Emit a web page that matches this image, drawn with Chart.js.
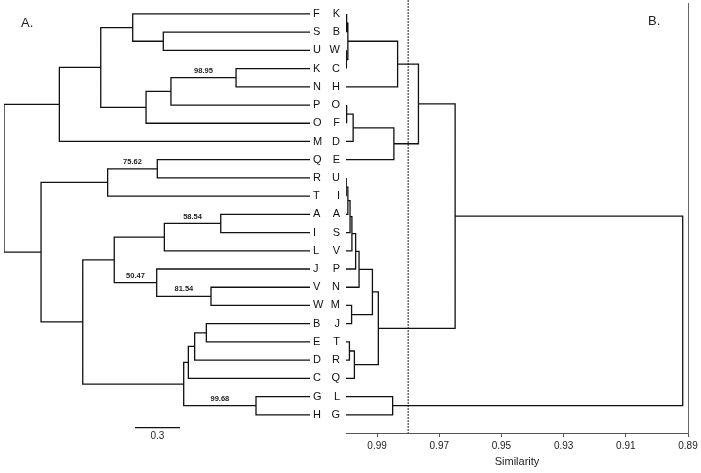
<!DOCTYPE html>
<html lang="en">
<head>
<meta charset="UTF-8">
<title>Dendrograms A and B</title>
<script src="https://cdn.jsdelivr.net/npm/chart.js"></script>
<style>
  body { margin: 0; background: #fff; }
  #wrap { position: relative; width: 701px; height: 473px; }
  canvas { position: absolute; top: 0; }
  #treeA { left: 0; }
  #treeB { left: 326px; }
</style>
</head>
<body>
<div id="wrap">
  <canvas id="treeA" width="326" height="473"></canvas>
  <canvas id="treeB" width="375" height="473"></canvas>
</div>
<script>
// leaf order, top to bottom
const leavesA = ['F','S','U','K','N','P','O','M','Q','R','T','A','I','L','J','V','W','B','E','D','C','G','H'];
const leavesB = ['K','B','W','C','H','O','F','D','E','U','I','A','S','V','P','N','M','J','T','R','Q','L','G'];

// tree A: [node, child 1, child 2, distance from root, bootstrap]
const leafDepthA = 2.04;
const mergesA = [
  ['SU',   'S',    'U',    1.062, null],
  ['FSU',  'F',    'SU',   0.858, null],
  ['KN',   'K',    'N',    1.547, 98.95],
  ['KNP',  'KN',   'P',    1.113, null],
  ['KNPO', 'KNP',  'O',    0.947, null],
  ['A1',   'FSU',  'KNPO', 0.645, null],
  ['A2',   'A1',   'M',    0.369, null],
  ['QR',   'Q',    'R',    1.022, 75.62],
  ['QRT',  'QR',   'T',    0.691, null],
  ['AI',   'A',    'I',    1.445, 58.54],
  ['AIL',  'AI',   'L',    1.069, null],
  ['VW',   'V',    'W',    1.380, 81.54],
  ['JVW',  'J',    'VW',   1.018, 50.47],
  ['A3',   'AIL',  'JVW',  0.735, null],
  ['BE',   'B',    'E',    1.349, null],
  ['BED',  'BE',   'D',    1.271, null],
  ['BEDC', 'BED',  'C',    1.229, null],
  ['GH',   'G',    'H',    1.680, 99.68],
  ['A4',   'BEDC', 'GH',   1.198, null],
  ['A5',   'A3',   'A4',   0.525, null],
  ['A6',   'QRT',  'A5',   0.247, null],
  ['rootA','A2',   'A6',   0.000, null]
];
const scaleBarA = { start: 0.873, length: 0.3, row: 22.71 };

// tree B: [node, child 1, child 2, similarity]
const leafSimB = 1.0;
const mergesB = [
  ['KB',    'K',     'B',    0.9997],
  ['WC',    'W',     'C',    0.9998],
  ['KBWC',  'KB',    'WC',   0.9994],
  ['B1',    'KBWC',  'H',    0.9834],
  ['OF',    'O',     'F',    0.9997],
  ['OFD',   'OF',    'D',    0.9977],
  ['B2',    'OFD',   'E',    0.9846],
  ['B3',    'B1',    'B2',   0.9767],
  ['UI',    'U',     'I',    0.9999],
  ['UIA',   'UI',    'A',    0.9994],
  ['UIAS',  'UIA',   'S',    0.9987],
  ['UIASV', 'UIAS',  'V',    0.9981],
  ['B4',    'UIASV', 'P',    0.9969],
  ['B5',    'B4',    'N',    0.9958],
  ['MJ',    'M',     'J',    0.9982],
  ['B6',    'B5',    'MJ',   0.9915],
  ['TR',    'T',     'R',    0.9989],
  ['TRQ',   'TR',    'Q',    0.9973],
  ['B7',    'B6',    'TRQ',  0.9896],
  ['B8',    'B3',    'B7',   0.9649],
  ['LG',    'L',     'G',    0.9850],
  ['rootB', 'B8',    'LG',   0.8917]
];
const simTicks = [0.99, 0.97, 0.95, 0.93, 0.91, 0.89];
const cutoffB = 0.98;

const FONT = 'Liberation Sans, Arial, sans-serif';
const rowMin = -0.6, rowMax = 23;

// turn merges into bracket polylines, broken by null points
function buildTree(leaves, merges, leafX) {
  const pos = {};
  const parentOf = {};
  leaves.forEach((l, i) => { pos[l] = { x: leafX, y: i }; });
  const pts = [];
  merges.forEach(m => {
    const [name, a, b, h] = m;
    const pa = pos[a], pb = pos[b];
    pts.push({x: pa.x, y: pa.y}, {x: h, y: pa.y}, {x: h, y: pb.y}, {x: pb.x, y: pb.y}, {x: null, y: null});
    pos[name] = { x: h, y: (pa.y + pb.y) / 2 };
    parentOf[a] = name;
    parentOf[b] = name;
  });
  return { pts, pos, parentOf };
}

const treeA = buildTree(leavesA, mergesA, leafDepthA);
const treeB = buildTree(leavesB, mergesB, leafSimB);

const rowTicks = leaves => s => { s.ticks = leaves.map((_, i) => ({ value: i })); };

const annotateA = {
  id: 'annotateA',
  afterDatasetsDraw(chart) {
    const { ctx, scales: { x, y } } = chart;
    ctx.save();
    ctx.fillStyle = '#222';
    ctx.textAlign = 'center';
    ctx.textBaseline = 'middle';
    ctx.font = 'bold 7.5px ' + FONT;
    mergesA.forEach(m => {
      const [name, , , h, boot] = m;
      if (boot == null) return;
      const parent = treeA.pos[treeA.parentOf[name]];
      ctx.fillText(boot.toFixed(2), x.getPixelForValue((parent.x + h) / 2), y.getPixelForValue(treeA.pos[name].y) - 7);
    });
    ctx.font = '10px ' + FONT;
    ctx.fillText(String(scaleBarA.length), x.getPixelForValue(scaleBarA.start + scaleBarA.length / 2), y.getPixelForValue(scaleBarA.row) + 9);
    ctx.font = '13px ' + FONT;
    ctx.textAlign = 'left';
    ctx.fillText('A.', 21, 23);
    ctx.restore();
  }
};

const annotateB = {
  id: 'annotateB',
  afterDatasetsDraw(chart) {
    const ctx = chart.ctx;
    ctx.save();
    ctx.fillStyle = '#222';
    ctx.textBaseline = 'middle';
    ctx.font = '13px ' + FONT;
    ctx.fillText('B.', 322, 21);
    ctx.restore();
  }
};

new Chart(document.getElementById('treeA'), {
  type: 'scatter',
  data: {
    datasets: [
      { data: treeA.pts, showLine: true, borderColor: '#111', borderWidth: 1.3, pointRadius: 0, spanGaps: false },
      { data: [{ x: scaleBarA.start, y: scaleBarA.row }, { x: scaleBarA.start + scaleBarA.length, y: scaleBarA.row }],
        showLine: true, borderColor: '#111', borderWidth: 1.3, pointRadius: 0 }
    ]
  },
  options: {
    responsive: false,
    animation: false,
    layout: { padding: { left: 4, right: 0, top: 3, bottom: 40 } },
    plugins: { legend: { display: false }, tooltip: { enabled: false } },
    scales: {
      x: { type: 'linear', display: false, min: 0, max: leafDepthA },
      y: {
        type: 'linear', position: 'right', reverse: true, min: rowMin, max: rowMax,
        afterBuildTicks: rowTicks(leavesA),
        afterFit: s => { s.width = 16; s.paddingTop = 0; s.paddingBottom = 0; },
        grid: { display: false, drawTicks: false },
        border: { display: false },
        ticks: { autoSkip: false, padding: 3, color: '#111', font: { family: FONT, size: 11 }, callback: v => leavesA[v] }
      }
    }
  },
  plugins: [annotateA]
});

new Chart(document.getElementById('treeB'), {
  type: 'scatter',
  data: {
    datasets: [
      { data: treeB.pts, showLine: true, borderColor: '#111', borderWidth: 1.3, pointRadius: 0, spanGaps: false },
      { data: [{ x: cutoffB, y: -0.77 }, { x: cutoffB, y: rowMax }], showLine: true, clip: false,
        borderColor: '#444', borderWidth: 1.2, borderDash: [2, 1], pointRadius: 0 }
    ]
  },
  options: {
    responsive: false,
    animation: false,
    layout: { padding: { left: 0, right: 13, top: 3, bottom: 0 } },
    plugins: { legend: { display: false }, tooltip: { enabled: false } },
    scales: {
      x: {
        type: 'linear', position: 'bottom', reverse: true, min: 0.89, max: 1.0,
        afterBuildTicks: s => { s.ticks = simTicks.map(v => ({ value: v })); },
        afterFit: s => { s.height = 40; s.paddingLeft = 0; s.paddingRight = 0; },
        grid: { drawOnChartArea: false, drawTicks: true, tickLength: 4, color: '#555' },
        border: { display: true, color: '#555' },
        ticks: { autoSkip: false, maxRotation: 0, padding: 3, color: '#222', font: { family: FONT, size: 10 }, callback: v => v.toFixed(2) },
        title: { display: true, text: 'Similarity', color: '#222', font: { family: FONT, size: 11 }, padding: { top: 0, bottom: 4 } }
      },
      y: {
        type: 'linear', position: 'left', reverse: true, min: rowMin, max: rowMax,
        afterBuildTicks: rowTicks(leavesB),
        afterFit: s => { s.width = 20; s.paddingTop = 0; s.paddingBottom = 0; },
        grid: { display: false, drawTicks: false },
        border: { display: false },
        ticks: { autoSkip: false, padding: 6, color: '#111', font: { family: FONT, size: 11 }, callback: v => leavesB[v] }
      },
      yEdge: {
        type: 'linear', position: 'right', min: 0, max: 1,
        afterFit: s => { s.width = 0; s.paddingTop = 0; s.paddingBottom = 0; },
        grid: { display: false, drawTicks: false },
        ticks: { display: false },
        border: { display: true, color: '#666' }
      }
    }
  },
  plugins: [annotateB]
});
</script>
</body>
</html>
